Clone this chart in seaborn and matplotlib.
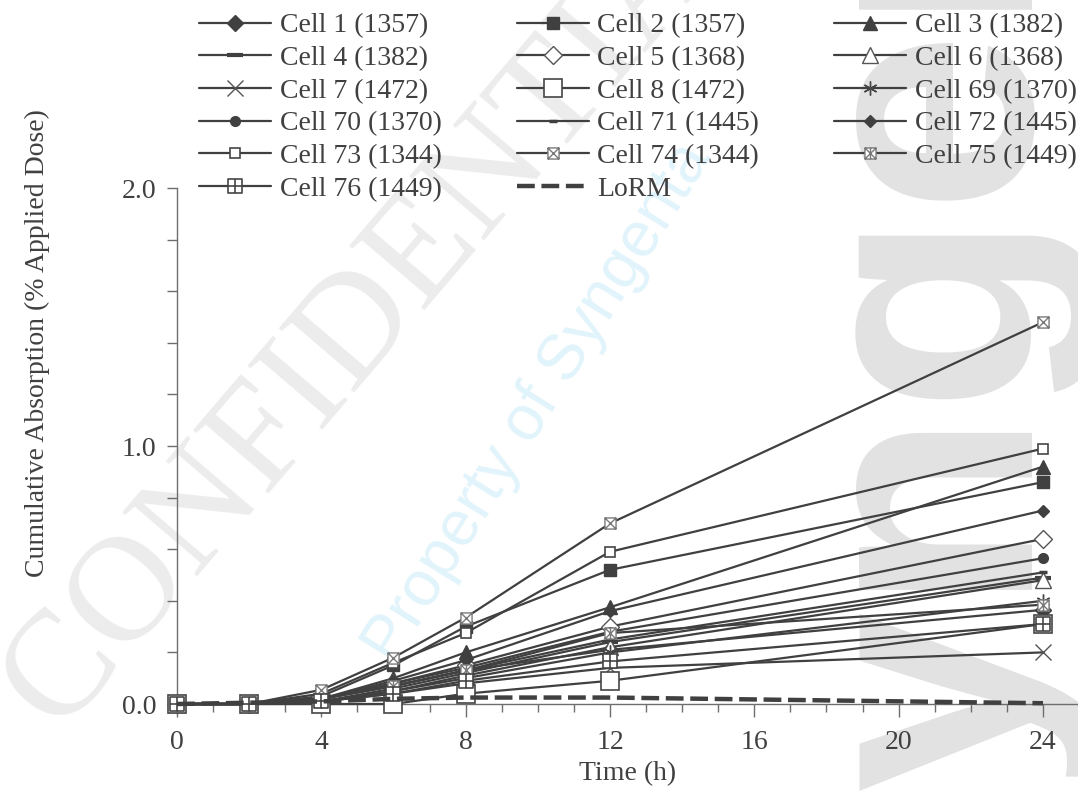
import numpy as np
import pandas as pd
import matplotlib
matplotlib.use("Agg")
import matplotlib.pyplot as plt
from matplotlib.path import Path
from matplotlib.ticker import MultipleLocator, FormatStrFormatter
import seaborn as sns

# ---------------- data ----------------
times = [0, 2, 4, 6, 8, 12, 24]
labels = ["Cell 1 (1357)", "Cell 2 (1357)", "Cell 3 (1382)", "Cell 4 (1382)",
          "Cell 5 (1368)", "Cell 6 (1368)", "Cell 7 (1472)", "Cell 8 (1472)",
          "Cell 69 (1370)", "Cell 70 (1370)", "Cell 71 (1445)", "Cell 72 (1445)",
          "Cell 73 (1344)", "Cell 74 (1344)", "Cell 75 (1449)", "Cell 76 (1449)",
          "LoRM"]
cell1 = [0, 0, 0.02, 0.07, 0.13, 0.21, 0.365]
cell2 = [0, 0, 0.03, 0.15, 0.30, 0.52, 0.86]
cell3 = [0, 0, 0.02, 0.10, 0.20, 0.375, 0.92]
cell4 = [0, 0, 0.01, 0.06, 0.12, 0.24, 0.49]
cell5 = [0, 0, 0.02, 0.08, 0.15, 0.30, 0.64]
cell6 = [0, 0, 0.01, 0.05, 0.11, 0.22, 0.48]
cell7 = [0, 0, 0.01, 0.04, 0.08, 0.14, 0.20]
cell8 = [0, 0, 0.00, 0.00, 0.04, 0.09, 0.31]
cell69 = [0, 0, 0.01, 0.05, 0.10, 0.20, 0.40]
cell70 = [0, 0, 0.02, 0.08, 0.14, 0.28, 0.565]
cell71 = [0, 0, 0.02, 0.07, 0.13, 0.25, 0.51]
cell72 = [0, 0, 0.02, 0.09, 0.17, 0.36, 0.75]
cell73 = [0, 0, 0.04, 0.16, 0.275, 0.59, 0.99]
cell74 = [0, 0, 0.055, 0.18, 0.335, 0.70, 1.48]
cell75 = [0, 0, 0.02, 0.07, 0.13, 0.275, 0.385]
cell76 = [0, 0, 0.01, 0.04, 0.09, 0.165, 0.31]
lorm = [0, 0.005, 0.01, 0.02, 0.025, 0.025, 0.003]
series = [cell1, cell2, cell3, cell4, cell5, cell6, cell7, cell8, cell69, cell70,
          cell71, cell72, cell73, cell74, cell75, cell76, lorm]

# ---------------- custom markers ----------------
M, L, C = Path.MOVETO, Path.LINETO, Path.CLOSEPOLY
sq = [(-1, -1), (1, -1), (1, 1), (-1, 1), (-1, -1)]
sq_codes = [M, L, L, L, C]
sq_x = Path(sq + [(-1, -1), (1, 1), (-1, 1), (1, -1)], sq_codes + [M, L, M, L])
sq_ast = Path(sq + [(-1, -1), (1, 1), (-1, 1), (1, -1), (0, -1), (0, 1)],
              sq_codes + [M, L, M, L, M, L])
sq_plus = Path(sq + [(-1, 0), (1, 0), (0, -1), (0, 1)], sq_codes + [M, L, M, L])

DK = "#404040"
W = "white"
# marker, size, facecolor, edgecolor, edgewidth
styles = [
    ("D", 8.5, DK, DK, 1.0),
    ("s", 8, DK, DK, 1.0),
    ("^", 10, DK, DK, 1.0),
    ("_", 11, DK, DK, 3.0),
    ("D", 9.5, W, "#555555", 1.0),
    ("^", 11.5, W, "#555555", 1.0),
    ("x", 12, DK, "#555555", 1.0),
    ("s", 13, W, "#454545", 1.2),
    ((6, 2, 0), 10, DK, "#454545", 1.0),
    ("o", 7, DK, DK, 1.0),
    ("_", 6, DK, DK, 2.5),
    ("D", 6, DK, DK, 1.0),
    ("s", 7, W, "#454545", 1.2),
    (sq_x, 8, W, "#7a7a7a", 1.0),
    (sq_ast, 8, W, "#7a7a7a", 1.0),
    (sq_plus, 10.5, W, "#454545", 1.2),
]

# ---------------- figure ----------------
sns.set_theme(style="white")
plt.rcParams["font.family"] = ["Liberation Serif", "DejaVu Serif"]
plt.rcParams["text.color"] = "#404040"

fig = plt.figure(figsize=(10.78, 8.06), dpi=100)

# background watermark text (light, behind everything)
fig.text(0.36, 0.64, "CONFIDENTIAL", rotation=49.5, ha="center", va="center",
         fontsize=108, color="#ececec", family="Liberation Serif", zorder=-5)
fig.text(0.50, 0.50, "Property of Syngenta", rotation=58, ha="center", va="center",
         fontsize=46, color="#e2f4fb", family="Liberation Sans", zorder=-5)
fig.text(0.87, 0.695, "syngenta", rotation=90, ha="center", va="center",
         fontsize=235, color="#e2e2e2", family="Liberation Sans",
         fontweight="bold", zorder=-5)

ax = fig.add_axes([177 / 1078, 102 / 806, 1 - 177 / 1078, 516 / 806])
ax.patch.set_alpha(0)

for lab, vals, st in zip(labels[:-1], series[:-1], styles):
    mk, ms, fc, ec, mew = st
    df = pd.DataFrame({"t": times, "v": vals})
    sns.lineplot(data=df, x="t", y="v", ax=ax, color=DK, linewidth=1.6,
                 marker=mk, markersize=ms, markerfacecolor=fc,
                 markeredgecolor=ec, markeredgewidth=mew, label=lab,
                 clip_on=False, zorder=3)

df = pd.DataFrame({"t": times, "v": lorm})
sns.lineplot(data=df, x="t", y="v", ax=ax, color=DK, linewidth=3.2,
             linestyle=(0, (4.0, 1.5)), label="LoRM", clip_on=False, zorder=3)

ax.set_xlim(0, 24.97)
ax.set_ylim(0, 2.0)
ax.xaxis.set_major_locator(MultipleLocator(4))
ax.xaxis.set_minor_locator(MultipleLocator(1))
ax.yaxis.set_major_locator(MultipleLocator(1.0))
ax.yaxis.set_minor_locator(MultipleLocator(0.2))
ax.yaxis.set_major_formatter(FormatStrFormatter("%.1f"))

for s in ["top", "right"]:
    ax.spines[s].set_visible(False)
for s in ["left", "bottom"]:
    ax.spines[s].set_color("#6e6e6e")
    ax.spines[s].set_linewidth(1.0)

ax.tick_params(axis="both", which="both", direction="out", colors="#6e6e6e",
               labelcolor="#404040", labelsize=20, width=1.0)
ax.tick_params(axis="x", which="major", length=9, pad=10, bottom=True)
ax.tick_params(axis="x", which="minor", length=6, bottom=True)
ax.tick_params(axis="y", which="major", length=7, pad=8, left=True)
ax.tick_params(axis="y", which="minor", length=7, left=True)
ax.grid(False)

ax.set_xlabel("Time (h)", fontsize=20, color="#404040", labelpad=4)
ax.set_ylabel("Cumulative Absorption (% Applied Dose)", fontsize=20,
              color="#404040")
ax.yaxis.set_label_coords((50 - 177) / 901, (704 - 343) / 516)

handles, labs = ax.get_legend_handles_labels()
order = [0, 3, 6, 9, 12, 15, 1, 4, 7, 10, 13, 16, 2, 5, 8, 11, 14]
if ax.get_legend():
    ax.get_legend().remove()
leg = fig.legend([handles[i] for i in order], [labs[i] for i in order],
                 ncol=3, loc="upper left", bbox_to_anchor=(188 / 1078, 1.0 - 2 / 806),
                 frameon=False, fontsize=20, handlelength=2.6, handletextpad=0.3,
                 labelspacing=0.26, columnspacing=2.7, borderaxespad=0)
for t in leg.get_texts():
    t.set_color("#404040")

fig.savefig("out.png", dpi=100)
